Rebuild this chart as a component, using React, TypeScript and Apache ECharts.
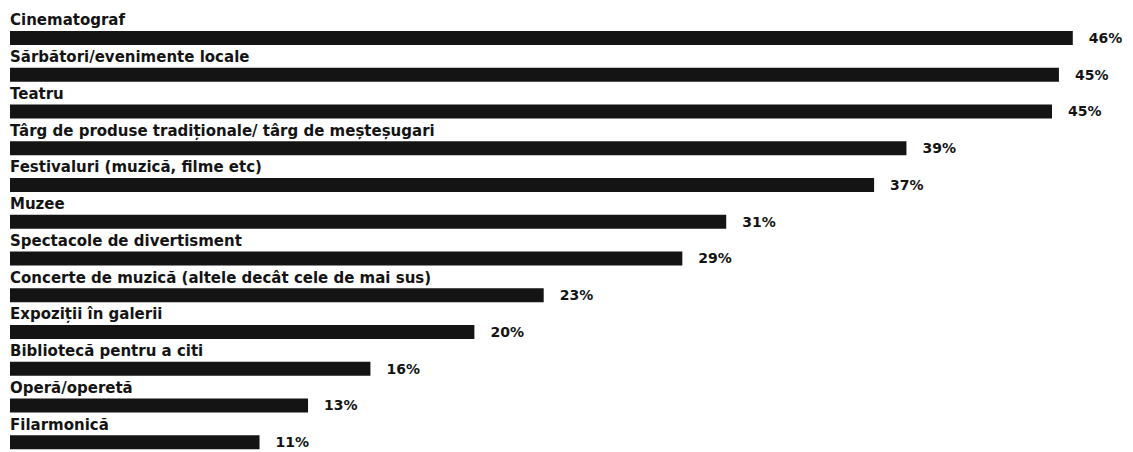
import React, { useEffect, useRef } from "react";
import * as echarts from "echarts";

const categories = [
  "Cinematograf",
  "Sărbători/evenimente locale",
  "Teatru",
  "Târg de produse tradiționale/ târg de meșteșugari",
  "Festivaluri (muzică, filme etc)",
  "Muzee",
  "Spectacole de divertisment",
  "Concerte de muzică (altele decât cele de mai sus)",
  "Expoziții în galerii",
  "Bibliotecă pentru a citi",
  "Operă/operetă",
  "Filarmonică",
];

const values = [46.0, 45.4, 45.1, 38.8, 37.4, 31.0, 29.1, 23.1, 20.1, 15.6, 12.9, 10.8];

const valueLabels = ["46%", "45%", "45%", "39%", "37%", "31%", "29%", "23%", "20%", "16%", "13%", "11%"];

export default function App() {
  const ref = useRef<HTMLDivElement>(null);
  useEffect(() => {
    document.body.style.margin = "0";
    document.body.style.overflow = "hidden";
    const chart = echarts.init(ref.current!, null, { renderer: "svg" });
    const font = "DejaVu Sans";
    chart.setOption({
      animation: false,
      backgroundColor: "#ffffff",
      grid: { left: 10, top: 19.5, width: 1109, height: 441, containLabel: false },
      xAxis: {
        type: "value",
        min: 0,
        max: 48,
        show: false,
      },
      yAxis: {
        type: "category",
        inverse: true,
        data: categories,
        show: false,
      },
      series: [
        {
          type: "bar",
          data: values,
          barWidth: 14,
          itemStyle: { color: "#141414" },
          label: {
            show: true,
            position: "right",
            distance: 16,
            color: "#141414",
            fontFamily: font,
            fontWeight: "bold",
            fontSize: 14,
            formatter: (p: any) => valueLabels[p.dataIndex],
          },
          z: 2,
        },
        {
          type: "bar",
          data: values,
          barWidth: 14,
          barGap: "-100%",
          silent: true,
          itemStyle: { color: "rgba(0,0,0,0)" },
          label: {
            show: true,
            position: [0, -3],
            verticalAlign: "bottom",
            align: "left",
            color: "#141414",
            fontFamily: font,
            fontWeight: "bold",
            fontSize: 15,
            formatter: "{b}",
          },
          z: 3,
        },
      ],
    });
    return () => chart.dispose();
  }, []);
  return (
    <div style={{ width: 1133, height: 452, overflow: "hidden", background: "#fff" }}>
      <div ref={ref} style={{ width: 1133, height: 480 }} />
    </div>
  );
}
